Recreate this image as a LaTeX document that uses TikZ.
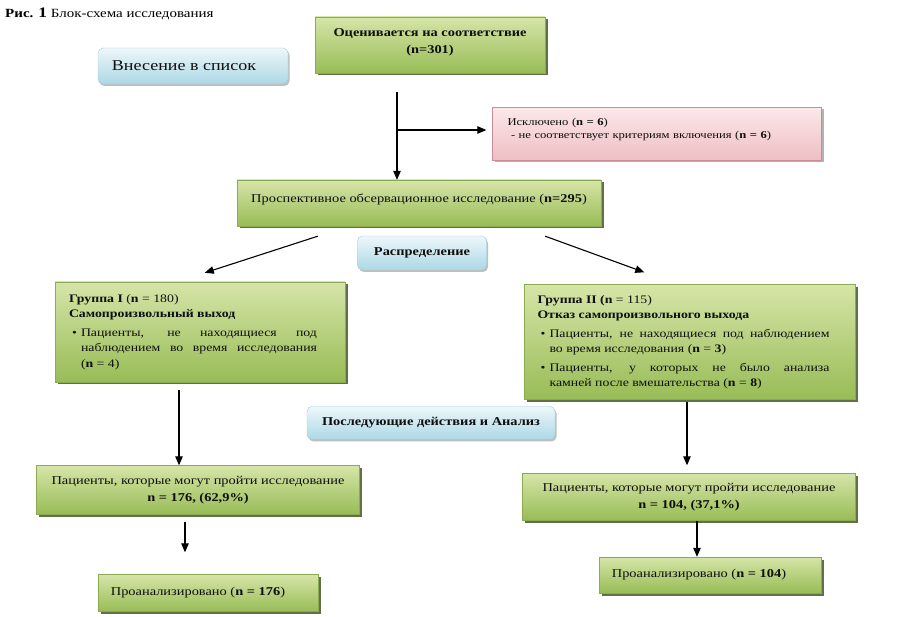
\documentclass[tikz,border=0pt]{standalone}
\usepackage{fontspec}
\setmainfont{Liberation Serif}[FakeStretch=1.2]
\usepackage{enumitem}
\usepackage{tikz}
\usetikzlibrary{
  arrows.meta,
  positioning,
  calc,
  shadows
}
\definecolor{greentop}{RGB}{214, 229, 168}
\definecolor{greenbottom}{RGB}{152, 188, 86}
\definecolor{greenborder}{RGB}{140, 170, 80}
\definecolor{greenshadow}{RGB}{70, 88, 40}
\definecolor{bluetop}{RGB}{238, 247, 250}
\definecolor{bluebottom}{RGB}{172, 216, 229}
\definecolor{blueborder}{RGB}{160, 205, 220}
\definecolor{redtop}{RGB}{252, 232, 234}
\definecolor{redbottom}{RGB}{238, 190, 195}
\definecolor{redborder}{RGB}{205, 140, 148}
\definecolor{labelcolor}{RGB}{15, 15, 15}
\definecolor{arrowcolor}{RGB}{0, 0, 0}
\tikzset{
blocktext/.style={
  align=center,
  font=\fontsize{12}{17}\selectfont,
  text=labelcolor
},
greenblock/.style={
  draw=greenborder,
  top color=greentop,
  bottom color=greenbottom,
  drop shadow={shadow xshift=2.5pt, shadow yshift=-2.5pt,
               fill=greenshadow, opacity=0.85},
  inner xsep=8pt,
  blocktext
},
groupblock/.style={
  greenblock,
  align=justify,
  font=\fontsize{11.5}{15.5}\selectfont
},
blueblock/.style={
  draw=blueborder,
  rounded corners=5pt,
  top color=bluetop,
  bottom color=bluebottom,
  drop shadow={shadow xshift=1.5pt, shadow yshift=-2pt,
               fill=gray, opacity=0.5},
  blocktext
},
redblock/.style={
  draw=redborder,
  top color=redtop,
  bottom color=redbottom,
  drop shadow={shadow xshift=2pt, shadow yshift=-2pt,
               fill=gray, opacity=0.6},
  blocktext
},
arrow/.style={
  -{Triangle[length=9pt,width=7.5pt]},
  line width=1.1pt,
  draw=arrowcolor
}
}
\setlist[itemize]{label=\textbullet, leftmargin=12pt, labelsep=4pt,
  topsep=3pt, itemsep=3pt, parsep=0pt, partopsep=0pt}

\begin{document}
\begin{tikzpicture}[x=1pt, y=-1pt]
  \useasboundingbox (0,0) rectangle (900,617);
  \fill[white] (0,0) rectangle (900,617);

  % caption
  \node[anchor=west, font=\fontsize{12.5}{14}\selectfont, inner sep=0pt] (caption)
    at (5,14) {\textbf{Рис. {\fontsize{14.5}{14}\selectfont 1}} Блок-схема исследования};

  % enrolment
  \node[greenblock, minimum width=230pt, minimum height=56pt,
        font=\bfseries\fontsize{12}{17}\selectfont] (assess) at (430,45)
    {Оценивается на соответствие\\(n=301)\rule[-8pt]{0pt}{0pt}};
  \node[blueblock, minimum width=190pt, minimum height=36pt,
        font=\fontsize{15}{17}\selectfont] (enroll) at (193,66)
    {Внесение в список\hspace*{18pt}};
  \node[redblock, minimum width=329pt, minimum height=53pt, align=left,
        text width=299pt, font=\fontsize{10.5}{13}\selectfont] (excl) at (657,134)
    {Исключено (\textbf{n = 6})\\
     \ - не соответствует критериям включения (\textbf{n = 6})\rule[-11pt]{0pt}{0pt}};
  \node[greenblock, minimum width=364pt, minimum height=46pt] (prosp) at (419,203)
    {Проспективное обсервационное исследование (\textbf{n=295})\rule[-10pt]{0pt}{0pt}};

  % allocation
  \node[blueblock, minimum width=129pt, minimum height=34pt,
        font=\bfseries\fontsize{12}{14}\selectfont] (distrib) at (422,253)
    {Распределение};
  \node[groupblock, minimum width=290pt, minimum height=100pt,
        text width=262pt, inner xsep=14pt] (group1) at (200,332)
    {\textbf{Группа I} (\textbf{n} = 180)\\
     \textbf{Самопроизвольный выход}
     \begin{itemize}[rightmargin=14pt]
       \item Пациенты, не находящиеся под\linebreak
             наблюдением во время исследования\linebreak
             (\textbf{n} = 4)
     \end{itemize}};
  \node[groupblock, minimum width=331pt, minimum height=115pt,
        text width=305pt, inner xsep=13pt] (group2) at (690,342)
    {\textbf{Группа II (n} = 115)\\
     \textbf{Отказ самопроизвольного выхода}
     \begin{itemize}[rightmargin=13pt]
       \item Пациенты, не находящиеся под наблюдением\linebreak
             во время исследования (\textbf{n} = \textbf{3})
       \item Пациенты, у которых не было анализа\linebreak
             камней после вмешательства (\textbf{n} = \textbf{8})
     \end{itemize}};

  % follow-up and analysis
  \node[blueblock, minimum width=248pt, minimum height=33pt,
        font=\bfseries\fontsize{12}{14}\selectfont] (followup) at (431,423)
    {Последующие действия и Анализ};
  \node[greenblock, minimum width=323pt, minimum height=49pt] (elig1) at (198,490)
    {Пациенты, которые могут пройти исследование\\
     \textbf{n = 176, (62,9\%)}};
  \node[greenblock, minimum width=333pt, minimum height=47pt] (elig2) at (689,497)
    {Пациенты, которые могут пройти исследование\\
     \textbf{n = 104, (37,1\%)}};
  \node[greenblock, minimum width=220pt, minimum height=37pt] (anal1) at (208,593)
    {Проанализировано (\textbf{n = 176})\hspace*{20pt}};
  \node[greenblock, minimum width=222pt, minimum height=36pt] (anal2) at (710,575)
    {Проанализировано (\textbf{n = 104})\hspace*{22pt}};

  % connectors
  \coordinate (split) at (397,130);
  \coordinate (g1out) at (179,390);
  \coordinate (e1out) at (185,522);
  \coordinate (g2out) at (687,402);
  \coordinate (e2out) at (697,521);
  \draw[arrow, shorten <=19pt] (assess.south -| split) -- (prosp.north -| split);
  \draw[arrow, shorten >=6pt] (split) -- (split -| excl.west);
  \draw[arrow] ($(prosp.south west)+(81,10)$) -- ($(group1.north west)+(150,-9)$);
  \draw[arrow] ($(prosp.south east)+(-56,10)$) -- ($(group2.north west)+(120,-12)$);
  \draw[arrow] (g1out) -- (g1out |- elig1.north);
  \draw[arrow, shorten >=22pt] (e1out) -- (e1out |- anal1.north);
  \draw[arrow, shorten >=8pt] (g2out) -- (g2out |- elig2.north);
  \draw[arrow] (e2out) -- (e2out |- anal2.north);
\end{tikzpicture}
\end{document}
